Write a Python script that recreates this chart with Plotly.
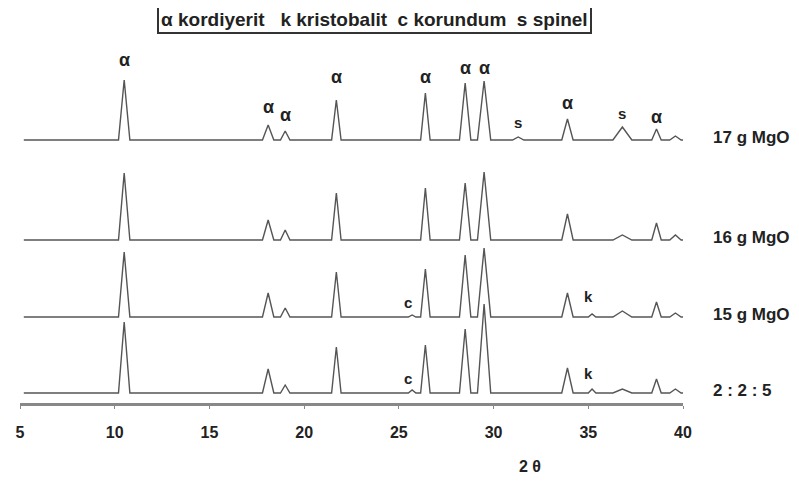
import plotly.graph_objects as go

# Peak positions (2θ) and half base widths
peak_pos = [10.5, 18.1, 19.0, 21.7, 25.7, 26.4, 28.5, 29.5, 31.3, 33.9, 35.2, 36.8, 38.6, 39.6]
peak_hw = [0.3, 0.3, 0.25, 0.25, 0.2, 0.25, 0.3, 0.35, 0.3, 0.3, 0.2, 0.5, 0.25, 0.3]

# Peak intensities (arbitrary units) per sample
i_17 = [60, 15, 9, 40, 0, 47, 57, 59, 3, 21, 0, 13, 11, 4]
i_16 = [67, 20, 10, 47, 0, 52, 57, 68, 0, 26, 0, 5, 17, 5]
i_15 = [65, 24, 9, 45, 2, 48, 62, 69, 0, 24, 3, 6, 15, 4]
i_225 = [71, 24, 8, 46, 3, 48, 64, 89, 0, 25, 4, 4, 14, 4]

sample_names = ["17 g MgO", "16 g MgO", "15 g MgO", "2 : 2 : 5"]
sample_offsets = [263, 163, 86, 10]

x_start, x_end = 5.2, 40.0
x_ticks = [5, 10, 15, 20, 25, 30, 35, 40]

# phase labels: (2θ, sample index, symbol)
label_pos = [10.5, 18.1, 19.0, 21.7, 26.4, 28.5, 29.5, 31.3, 33.9, 36.8, 38.6, 25.5, 35.0, 25.5, 35.0]
label_sample = [0, 0, 0, 0, 0, 0, 0, 0, 0, 0, 0, 2, 2, 3, 3]
label_text = ["α", "α", "α", "α", "α", "α", "α", "s", "α", "s", "α", "c", "k", "c", "k"]
label_lift = [20, 18, 16, 23, 16, 15, 13, 15, 16, 14, 12, 15, 21, 15, 20]

legend_text = "α kordiyerit   k kristobalit  c korundum  s spinel"

intens = [i_17, i_16, i_15, i_225]


def profile(heights, offset):
    xs = [x_start]
    ys = [offset]
    for p, w, h in zip(peak_pos, peak_hw, heights):
        xs += [p - w, p, p + w]
        ys += [offset, offset + h, offset]
    xs.append(x_end)
    ys.append(offset)
    return xs, ys


fig = go.Figure()
for heights, off in zip(intens, sample_offsets):
    xs, ys = profile(heights, off)
    fig.add_trace(go.Scatter(x=xs, y=ys, mode="lines",
                             line=dict(color="#555555", width=1.4),
                             showlegend=False, hoverinfo="skip"))

font_b = "Liberation Sans, Arial, sans-serif"

for name, off in zip(sample_names, sample_offsets):
    fig.add_annotation(x=1.042, xref="paper", y=off + 3, yref="y", text=f"<b>{name}</b>",
                       showarrow=False, xanchor="left", yanchor="middle",
                       font=dict(family=font_b, size=17, color="#222"))

for xp, si, txt, lift in zip(label_pos, label_sample, label_text, label_lift):
    k = peak_pos.index(xp) if xp in peak_pos else None
    h = intens[si][k] if k is not None else 0
    fig.add_annotation(x=xp, y=sample_offsets[si] + h + lift, xref="x", yref="y",
                       text=f"<b>{txt}</b>", showarrow=False,
                       font=dict(family=font_b, size=18 if txt == "α" else 15, color="#222"))

fig.add_annotation(x=31.9, xref="x", y=-0.204, yref="paper", text="<b>2 θ</b>",
                   showarrow=False, font=dict(family=font_b, size=16, color="#222"))

fig.add_annotation(x=0.534, xref="paper", y=1.057, yref="paper",
                   text=f"<b>{legend_text}</b>",
                   showarrow=False, xanchor="center", yanchor="middle",
                   bordercolor="#333", borderwidth=2, borderpad=2, bgcolor="white",
                   font=dict(family=font_b, size=19, color="#222"))

fig.update_layout(
    width=791, height=477,
    margin=dict(l=8, r=116, t=32, b=82),
    paper_bgcolor="white", plot_bgcolor="white",
    xaxis=dict(range=[5, 40], tickvals=x_ticks, ticktext=[f"<b>{v}</b>" for v in x_ticks],
               showgrid=False, zeroline=False, showline=True, linecolor="#888", linewidth=2.5,
               ticks="outside", ticklen=3, tickcolor="#888", ticklabelstandoff=10,
               tickfont=dict(family=font_b, size=16, color="#222")),
    yaxis=dict(range=[0, 363], visible=False),
)

fig.write_html("out.html")
